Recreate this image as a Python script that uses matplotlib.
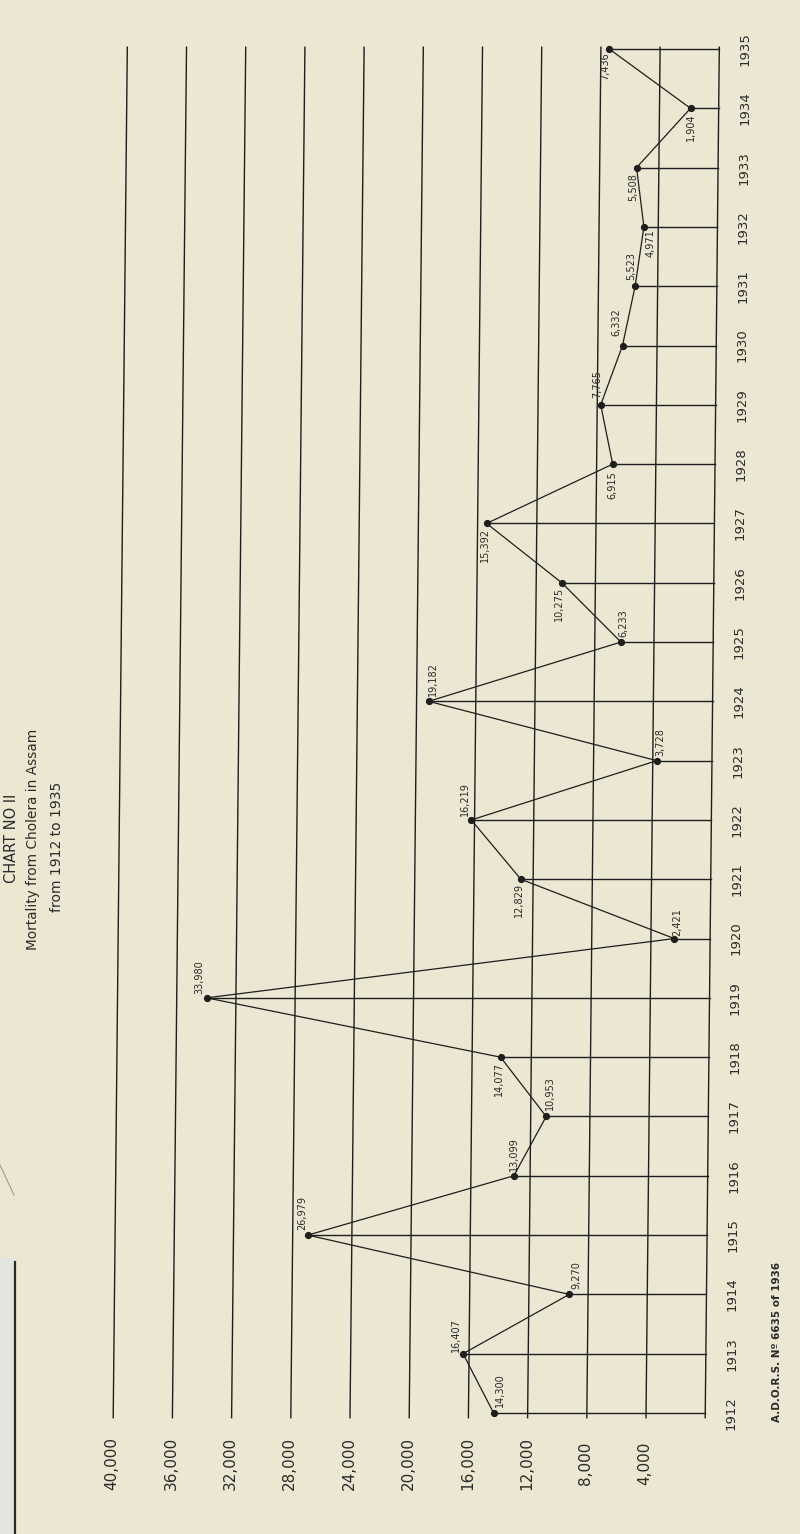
import math
import matplotlib
matplotlib.use("Agg")
import matplotlib.pyplot as plt
from matplotlib.transforms import Affine2D
from matplotlib.patches import Rectangle
from matplotlib.lines import Line2D

# ---------------- data ----------------
years = list(range(1912, 1936))
deaths = [14300, 16407, 9270, 26979, 13099, 10953, 14077, 33980, 2421, 12829,
          16219, 3728, 19182, 6233, 10275, 15392, 6915, 7765, 6332, 5523,
          4971, 5508, 1904, 7436]
point_labels = ["14,300", "16,407", "9,270", "26,979", "13,099", "10,953",
                "14,077", "33,980", "2,421", "12,829", "16,219", "3,728",
                "19,182", "6,233", "10,275", "15,392", "6,915", "7,765",
                "6,332", "5,523", "4,971", "5,508", "1,904", "7,436"]
value_ticks = [40000, 36000, 32000, 28000, 24000, 20000, 16000, 12000, 8000, 4000]
value_tick_labels = ["40,000", "36,000", "32,000", "28,000", "24,000",
                     "20,000", "16,000", "12,000", "8,000", "4,000"]
year_labels = [str(y) for y in years]

# label offsets (pixels: right, up) for the point annotations
label_offsets = [(6, 23), (-7, 19), (7, 19), (-6, 22), (0, 22), (4, 23),
                 (-2, -22), (-7, 21), (3, 17), (-2, -21), (-6, 21), (4, 19),
                 (4, 22), (2, 19), (-3, -21), (-2, -22), (0, -21), (-4, 21),
                 (-6, 23), (-4, 20), (7, -16), (-3, -19), (0, -19), (-4, -17)]

BG = "#ebe7d3"
INK = "#1e1e1c"
TXT = "#2a2a27"
W, H = 800, 1534

fig = plt.figure(figsize=(W / 100, H / 100), dpi=100, facecolor=BG)
ax = fig.add_axes([112 / W, 121 / H, 592 / W, 1364 / H])
ax.set_facecolor(BG)
ax.set_xlim(40000, 0)
ax.set_ylim(1912, 1935)
ax.axis("off")

# slight shear of the scanned sheet
skew = ax.transData + Affine2D().skew(math.atan(0.0103), 0)

# vertical grid lines (including the right border at 0)
for v in value_ticks + [0]:
    ax.add_line(Line2D([v, v], [1911.92, 1935.03], transform=skew,
                       color=INK, lw=1.0, clip_on=False))

# horizontal year lines from each point to the right border
for v, y in zip(deaths, years):
    ax.add_line(Line2D([v, 0], [y, y], transform=skew, color=INK, lw=1.0,
                       clip_on=False))

# data line
ax.plot(deaths, years, transform=skew, color=INK, lw=0.9, marker="o",
        ms=4.2, mfc=INK, mec=INK, clip_on=False, zorder=5)

# point labels
for v, y, lbl, (dx, dy) in zip(deaths, years, point_labels, label_offsets):
    ax.annotate(lbl, (v, y), xycoords=skew, xytext=(dx, dy),
                textcoords="offset pixels", rotation=90, ha="center",
                va="center", fontsize=7, color=TXT,
                family="DejaVu Sans", annotation_clip=False)

# value axis labels (bottom)
for v, lbl in zip(value_ticks, value_tick_labels):
    ax.annotate(lbl, (v, 1912), xycoords=skew, xytext=(-1, -50),
                textcoords="offset pixels", rotation=90, ha="center",
                va="center", fontsize=11, color=TXT,
                family="DejaVu Sans", annotation_clip=False)

# year labels (right)
for y, lbl in zip(years, year_labels):
    ax.annotate(lbl, (0, y), xycoords=skew, xytext=(26, 0),
                textcoords="offset pixels", rotation=90, ha="center",
                va="center", fontsize=9.5, color=TXT,
                family="DejaVu Sans", annotation_clip=False)

# titles
def ftext(x, y, s, **kw):
    fig.text(x / W, 1 - y / H, s, rotation=90, ha="center", va="center",
             color=TXT, family="DejaVu Sans", **kw)

ftext(12, 838, "CHART NO II", fontsize=10.5)
ftext(33, 839, "Mortality from Cholera in Assam", fontsize=9.8)
ftext(57, 847, "from 1912 to 1935", fontsize=10)
ftext(777, 1342, "A.D.O.R.S. Nº 6635 of 1936", fontsize=7.5, fontweight="bold")

# scan edge artifacts on the left
fig.patches.append(Rectangle((0, 0), 15 / W, (H - 1258) / H,
                             transform=fig.transFigure, facecolor="#e4e4e2",
                             edgecolor="none", zorder=0))
fig.lines.append(Line2D([15 / W, 15 / W], [0, 1 - 1262 / H],
                        transform=fig.transFigure, color="#2a2a26", lw=1.6))
fig.lines.append(Line2D([0, 14 / W], [1 - 1165 / H, 1 - 1195 / H],
                        transform=fig.transFigure, color="#9a9a96", lw=0.8))

fig.savefig("out.png", dpi=100, facecolor=BG)
